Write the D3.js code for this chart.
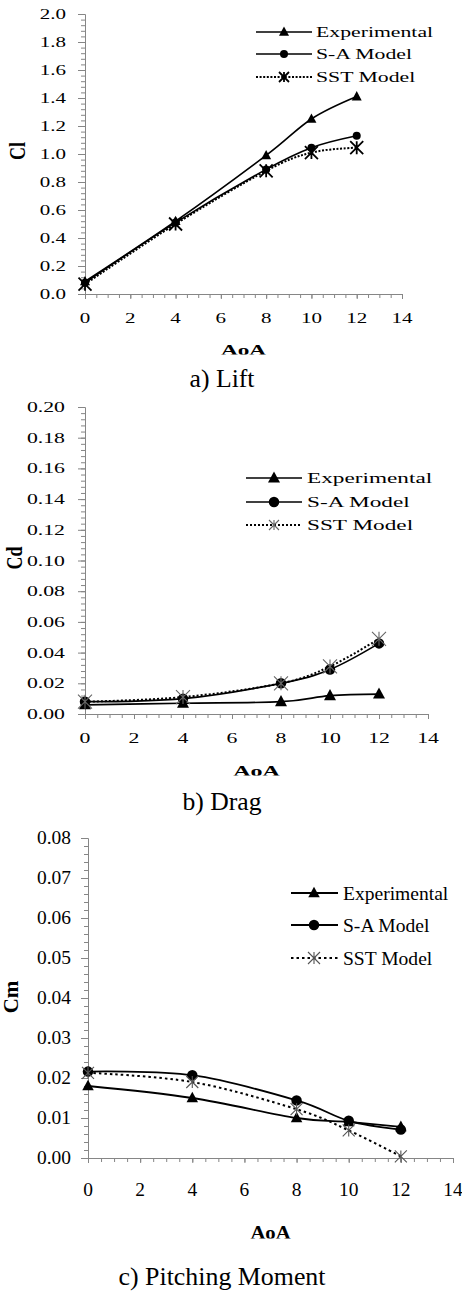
<!DOCTYPE html>
<html>
<head>
<meta charset="utf-8">
<script src="https://cdn.jsdelivr.net/npm/d3@7"></script>
<style>
  html, body { margin: 0; padding: 0; background: #fff; }
  svg { display: block; }
</style>
</head>
<body>
<svg id="fig" width="462" height="1293"></svg>
<script>
// Angle of attack stations (deg)
const aoa = [0, 4, 8, 10, 12];
const seriesNames = ["Experimental", "S-A Model", "SST Model"];

// Lift coefficient
const liftExp = [0.09, 0.52, 0.99, 1.25, 1.41];
const liftSA  = [0.08, 0.51, 0.89, 1.045, 1.13];
const liftSST = [0.07, 0.50, 0.88, 1.01, 1.045];

// Drag coefficient
const dragExp = [0.006, 0.007, 0.008, 0.012, 0.013];
const dragSA  = [0.008, 0.010, 0.020, 0.029, 0.046];
const dragSST = [0.008, 0.011, 0.020, 0.031, 0.049];

// Pitching moment coefficient
const momentExp = [0.018, 0.015, 0.010, 0.009, 0.0078];
const momentSA  = [0.0216, 0.0207, 0.0144, 0.0093, 0.0071];
const momentSST = [0.0213, 0.0190, 0.0122, 0.0069, 0.0004];

// Tick labels
const aoaTicks = [0, 2, 4, 6, 8, 10, 12, 14];
const liftTicks = [0.0, 0.2, 0.4, 0.6, 0.8, 1.0, 1.2, 1.4, 1.6, 1.8, 2.0];
const dragTicks = [0.00, 0.02, 0.04, 0.06, 0.08, 0.10, 0.12, 0.14, 0.16, 0.18, 0.20];
const momentTicks = [0.00, 0.01, 0.02, 0.03, 0.04, 0.05, 0.06, 0.07, 0.08];

const captions = ["a) Lift", "b) Drag", "c) Pitching Moment"];
const yTitles = ["Cl", "Cd", "Cm"];
const xTitle = "AoA";

const svg = d3.select("#fig");
const AXIS = "#868686";
const SERIF = "'Liberation Serif', 'Times New Roman', Times, serif";

// Text drawn with a horizontal stretch about its anchor point
function label(g, x, y, s, o) {
  let tf = `translate(${x},${y}) scale(${o.sx || 1},1)`;
  if (o.rotate) tf += ` rotate(${o.rotate})`;
  const t = g.append("text")
    .attr("transform", tf)
    .attr("text-anchor", o.anchor || "start")
    .attr("dy", (o.dy === undefined ? 0.35 : o.dy) + "em")
    .attr("font-family", SERIF)
    .attr("font-size", o.size)
    .attr("font-weight", o.weight || "normal")
    .attr("fill", "#000")
    .text(s);
  if (o.len) t.attr("textLength", o.len).attr("lengthAdjust", "spacingAndGlyphs");
  return t;
}

function marker(g, kind, cx, cy, m) {
  if (kind === 0) {
    const s = m.tri;
    g.append("path")
      .attr("d", `M${cx},${cy - s * 0.55}L${cx + s / 2},${cy + s * 0.38}L${cx - s / 2},${cy + s * 0.38}Z`)
      .attr("fill", "#000");
  } else if (kind === 1) {
    g.append("circle").attr("cx", cx).attr("cy", cy).attr("r", m.circ / 2).attr("fill", "#000");
  } else {
    const h = m.starSize / 2;
    g.append("path")
      .attr("d", `M${cx - h},${cy - h}L${cx + h},${cy + h}M${cx + h},${cy - h}L${cx - h},${cy + h}M${cx},${cy - h}L${cx},${cy + h}`)
      .attr("fill", "none").attr("stroke", m.starColor).attr("stroke-width", m.starWidth);
  }
}

const panels = [
  {
    series: [liftExp, liftSA, liftSST], ticks: liftTicks, fmt: d3.format(".1f"),
    yMax: 2.0, yMinor: 0.04,
    x0: 85, x1: 402, yTop: 14, yBot: 294,
    tickFont: 14, tickSx: 1.5, yLabRight: 66, xLabY: 318,
    titleFont: 15, titleSx: 1.55, titleBase: 355,
    yTitleX: 17, yTitleY: 151, yTitleFont: 18, yTitleSx: 1.25,
    leg: { l0: 256, l1: 312, m: 284, tx: 316, rows: [32, 54, 77], font: 15, sx: 1.45 },
    mk: { tri: 10, circ: 8, starSize: 13, starColor: "#000", starWidth: 1.8 },
    legStar: 10, lineW: 1.6, dash: "2,1.6",
    cap: { y: 387, size: 25, len: 65 }
  },
  {
    series: [dragExp, dragSA, dragSST], ticks: dragTicks, fmt: d3.format(".2f"),
    yMax: 0.20, yMinor: 0.004,
    x0: 85, x1: 428, yTop: 407, yBot: 714,
    tickFont: 14.5, tickSx: 1.5, yLabRight: 65, xLabY: 738,
    titleFont: 15.5, titleSx: 1.55, titleBase: 776,
    yTitleX: 14, yTitleY: 558, yTitleFont: 18, yTitleSx: 1.3,
    leg: { l0: 246, l1: 302, m: 274, tx: 307, rows: [478, 502, 525], font: 15.5, sx: 1.5 },
    mk: { tri: 12, circ: 10.5, starSize: 14, starColor: "#666", starWidth: 1.1 },
    legStar: 10, lineW: 1.7, dash: "2,2",
    cap: { y: 810, size: 25, len: 79 }
  },
  {
    series: [momentExp, momentSA, momentSST], ticks: momentTicks, fmt: d3.format(".2f"),
    yMax: 0.08, yMinor: 0.002,
    x0: 88, x1: 453, yTop: 838, yBot: 1158,
    tickFont: 18, tickSx: 1.08, yLabRight: 71, xLabY: 1190,
    titleFont: 18, titleSx: 1.15, titleBase: 1239,
    yTitleX: 11, yTitleY: 997, yTitleFont: 21, yTitleSx: 1.0,
    leg: { l0: 291, l1: 338, m: 314, tx: 343, rows: [893, 925, 958], font: 19, sx: 1.03 },
    mk: { tri: 11.5, circ: 10.5, starSize: 12, starColor: "#555", starWidth: 1.1 },
    legStar: 12, lineW: 1.8, dash: "2.5,3",
    cap: { y: 1285, size: 25, len: 207 }
  }
];

const defs = svg.append("defs");

panels.forEach((p, pi) => {
  const g = svg.append("g");
  const x = d3.scaleLinear().domain([0, 14]).range([p.x0, p.x1]);
  const y = d3.scaleLinear().domain([0, p.yMax]).range([p.yBot, p.yTop]);

  // Y axis: minor and major ticks pointing outwards
  const yMinorVals = d3.range(0, Math.round(p.yMax / p.yMinor) + 1).map(i => i * p.yMinor);
  g.append("g").attr("transform", `translate(${p.x0},0)`)
    .call(d3.axisLeft(y).tickValues(yMinorVals).tickSize(4).tickSizeOuter(0).tickFormat(""));
  g.append("g").attr("transform", `translate(${p.x0},0)`)
    .call(d3.axisLeft(y).tickValues(p.ticks).tickSize(7).tickSizeOuter(0).tickFormat(""));

  // X axis
  const xMinorVals = d3.range(0, 29).map(i => i * 0.5);
  g.append("g").attr("transform", `translate(0,${p.yBot})`)
    .call(d3.axisBottom(x).tickValues(xMinorVals).tickSize(4).tickSizeOuter(0).tickFormat(""));
  g.append("g").attr("transform", `translate(0,${p.yBot})`)
    .call(d3.axisBottom(x).tickValues(aoaTicks).tickSize(5).tickSizeOuter(0).tickFormat(""));

  g.selectAll(".domain, .tick line").attr("stroke", AXIS).attr("stroke-width", 1);

  // Tick labels
  p.ticks.forEach(v => label(g, p.yLabRight, y(v), p.fmt(v), { size: p.tickFont, sx: p.tickSx, anchor: "end" }));
  aoaTicks.forEach(v => label(g, x(v), p.xLabY, String(v), { size: p.tickFont, sx: p.tickSx, anchor: "middle" }));

  // Axis titles (the x title sits in a clipped group so its foot is trimmed flat)
  defs.append("clipPath").attr("id", "tclip" + pi)
    .append("rect").attr("x", 0).attr("y", p.titleBase - 30).attr("width", 462).attr("height", 29.5);
  const tg = g.append("g").attr("clip-path", `url(#tclip${pi})`);
  label(tg, x(7), p.titleBase, xTitle, { size: p.titleFont, sx: p.titleSx, anchor: "middle", weight: "bold", dy: 0 });
  label(g, p.yTitleX, p.yTitleY, yTitles[pi], { size: p.yTitleFont, sx: p.yTitleSx, anchor: "middle", weight: "bold", rotate: -90 });

  // Series lines and markers
  const line = d3.line().x(d => x(d[0])).y(d => y(d[1])).curve(d3.curveCatmullRom.alpha(0));
  p.series.forEach((vals, si) => {
    const pts = aoa.map((a, i) => [a, vals[i]]);
    const path = g.append("path").attr("d", line(pts))
      .attr("fill", "none").attr("stroke", "#000").attr("stroke-width", si === 2 ? 2 : p.lineW);
    if (si === 2) path.attr("stroke-dasharray", p.dash);
    pts.forEach(d => marker(g, si, x(d[0]), y(d[1]), p.mk));
  });

  // Legend
  const L = p.leg;
  seriesNames.forEach((name, si) => {
    const ry = L.rows[si];
    const ln = g.append("line").attr("x1", L.l0).attr("x2", L.l1).attr("y1", ry).attr("y2", ry)
      .attr("stroke", "#000").attr("stroke-width", si === 2 ? 2 : p.lineW);
    if (si === 2) ln.attr("stroke-dasharray", p.dash);
    const mk = Object.assign({}, p.mk, { starSize: p.legStar });
    marker(g, si, L.m, ry, mk);
    label(g, L.tx, ry, name, { size: L.font, sx: L.sx });
  });

  // Caption
  label(g, 222, p.cap.y, captions[pi], { size: p.cap.size, len: p.cap.len, anchor: "middle", dy: 0 });
});
</script>
</body>
</html>
